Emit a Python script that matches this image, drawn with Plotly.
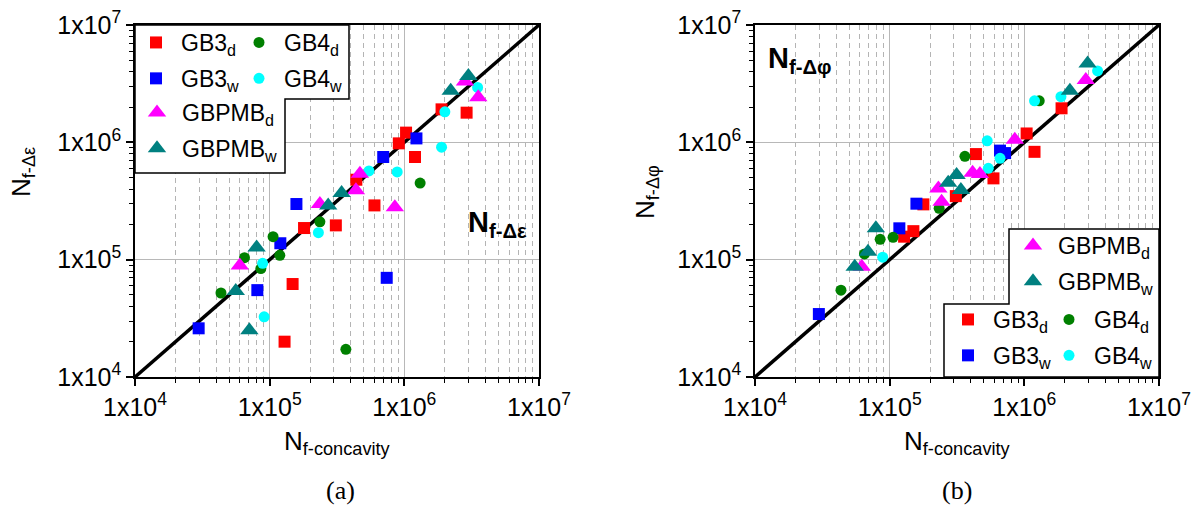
import plotly.graph_objects as go

W, H = 1203, 508

# ---- fatigue lives, panel (a): N_f-concavity vs N_f-Δε ----
a_gb3d_x = [1.89e6, 2.9e6, 1.03e6, 9.1e5, 1.2e6, 4.4e5, 6.0e5, 1.8e5, 3.1e5, 1.48e5, 1.29e5]
a_gb3d_y = [1.91e6, 1.79e6, 1.21e6, 9.8e5, 7.5e5, 4.8e5, 2.9e5, 1.86e5, 1.96e5, 6.2e4, 2.0e4]
a_gb3w_x = [1.23e6, 6.97e5, 1.58e5, 1.2e5, 8.1e4, 2.97e4, 7.4e5]
a_gb3w_y = [1.08e6, 7.5e5, 2.98e5, 1.38e5, 5.5e4, 2.6e4, 7.0e4]
a_gb4d_x = [1.31e6, 2.36e5, 1.06e5, 1.19e5, 6.5e4, 8.6e4, 4.35e4, 3.68e5]
a_gb4d_y = [4.5e5, 2.1e5, 1.57e5, 1.09e5, 1.04e5, 8.4e4, 5.2e4, 1.72e4]
a_gb4w_x = [3.5e6, 2.0e6, 1.89e6, 5.46e5, 8.85e5, 2.3e5, 8.87e4, 9.1e4]
a_gb4w_y = [2.94e6, 1.82e6, 9.1e5, 5.7e5, 5.6e5, 1.7e5, 9.3e4, 3.26e4]
a_pmbd_x = [3.54e6, 2.82e6, 4.68e5, 4.37e5, 8.5e5, 2.36e5, 6.0e4]
a_pmbd_y = [2.42e6, 3.3e6, 5.4e5, 3.9e5, 2.8e5, 2.98e5, 8.9e4]
a_pmbw_x = [2.99e6, 2.21e6, 3.42e5, 2.72e5, 8.0e4, 5.6e4, 7.07e4]
a_pmbw_y = [3.67e6, 2.75e6, 3.7e5, 2.9e5, 1.27e5, 5.4e4, 2.5e4]

# ---- fatigue lives, panel (b): N_f-concavity vs N_f-Δφ ----
b_gb3d_x = [1.89e6, 1.04e6, 1.19e6, 4.37e5, 5.9e5, 3.1e5, 1.78e5, 1.5e5, 1.28e5]
b_gb3d_y = [1.95e6, 1.19e6, 8.3e5, 7.94e5, 4.93e5, 3.48e5, 2.96e5, 1.75e5, 1.57e5]
b_gb3w_x = [6.6e5, 7.2e5, 1.58e5, 1.18e5, 2.98e4]
b_gb3w_y = [8.5e5, 8.1e5, 3.0e5, 1.85e5, 3.44e4]
b_gb4d_x = [1.29e6, 3.62e5, 2.33e5, 1.06e5, 8.5e4, 6.5e4, 4.35e4]
b_gb4d_y = [2.26e6, 7.6e5, 2.74e5, 1.55e5, 1.49e5, 1.12e5, 5.5e4]
b_gb4w_x = [3.5e6, 1.87e6, 1.19e6, 5.3e5, 5.4e5, 6.6e5, 8.87e4]
b_gb4w_y = [4.06e6, 2.45e6, 2.26e6, 1.03e6, 6.0e5, 7.3e5, 1.05e5]
b_pmbd_x = [2.86e6, 8.5e5, 4.13e5, 4.68e5, 2.3e5, 2.43e5, 6.2e4]
b_pmbd_y = [3.4e6, 1.05e6, 5.5e5, 5.37e5, 4.05e5, 3.12e5, 8.7e4]
b_pmbw_x = [2.95e6, 2.18e6, 3.14e5, 2.72e5, 3.38e5, 7.9e4, 6.9e4, 5.5e4]
b_pmbw_y = [4.7e6, 2.75e6, 5.26e5, 4.53e5, 3.92e5, 1.85e5, 1.17e5, 8.7e4]

tick_vals = [1e4, 1e5, 1e6, 1e7]
tick_text = ["1x10<sup>4</sup>", "1x10<sup>5</sup>", "1x10<sup>6</sup>", "1x10<sup>7</sup>"]
AX_MIN, AX_MAX = 1e4, 1e7

FONT = "Liberation Sans, Arial, sans-serif"


def px(x):
    return x / W


def py(y):
    return 1 - y / H


# series styles: name, colour, symbol, size
styles = {
    "gb3d": ("GB3<sub>d</sub>", "#ff0000", "square", 12),
    "gb3w": ("GB3<sub>w</sub>", "#0000ff", "square", 12),
    "gb4d": ("GB4<sub>d</sub>", "#008000", "circle", 11),
    "gb4w": ("GB4<sub>w</sub>", "#00ffff", "circle", 11),
    "pmbd": ("GBPMB<sub>d</sub>", "#ff00ff", "triangle-up", 16),
    "pmbw": ("GBPMB<sub>w</sub>", "#008080", "triangle-up", 16),
}

panel_a = {
    "gb3d": (a_gb3d_x, a_gb3d_y), "gb3w": (a_gb3w_x, a_gb3w_y),
    "gb4d": (a_gb4d_x, a_gb4d_y), "gb4w": (a_gb4w_x, a_gb4w_y),
    "pmbd": (a_pmbd_x, a_pmbd_y), "pmbw": (a_pmbw_x, a_pmbw_y),
}
panel_b = {
    "gb3d": (b_gb3d_x, b_gb3d_y), "gb3w": (b_gb3w_x, b_gb3w_y),
    "gb4d": (b_gb4d_x, b_gb4d_y), "gb4w": (b_gb4w_x, b_gb4w_y),
    "pmbd": (b_pmbd_x, b_pmbd_y), "pmbw": (b_pmbw_x, b_pmbw_y),
}

# which legend box each series goes to, per panel
legend_a = {"gb3d": "legend", "gb3w": "legend", "gb4d": "legend2", "gb4w": "legend2",
            "pmbd": "legend3", "pmbw": "legend3"}
legend_b = {"gb3d": "legend5", "gb3w": "legend5", "gb4d": "legend6", "gb4w": "legend6",
            "pmbd": "legend4", "pmbw": "legend4"}

fig = go.Figure()

# 1:1 reference line across the full axis range
for xa, ya in (("x", "y"), ("x2", "y2")):
    fig.add_trace(go.Scatter(x=[AX_MIN, AX_MAX], y=[AX_MIN, AX_MAX], mode="lines",
                             line=dict(color="black", width=3.5), showlegend=False,
                             xaxis=xa, yaxis=ya, hoverinfo="skip"))

order = ["gb3d", "gb3w", "gb4d", "gb4w", "pmbd", "pmbw"]
for data, legs, xa, ya in ((panel_a, legend_a, "x", "y"), (panel_b, legend_b, "x2", "y2")):
    for k in order:
        name, col, sym, size = styles[k]
        xs, ys = data[k]
        fig.add_trace(go.Scatter(
            x=xs, y=ys, mode="markers", name=name,
            marker=dict(color=col, symbol=sym, size=size, line=dict(width=0)),
            legend=legs[k], legendgroup=xa + k, xaxis=xa, yaxis=ya, cliponaxis=False))

minor_vals = [m * 10 ** e for e in range(4, 7) for m in range(2, 10)]


def log_axis(domain, is_x, anchor):
    ax = dict(
        type="log", range=[4, 7], domain=domain, anchor=anchor,
        tickmode="array", tickvals=tick_vals, ticktext=tick_text,
        ticks="outside", ticklen=7, tickwidth=1.5, tickcolor="black",
        showline=True, linecolor="black", linewidth=1.5, mirror=True,
        showgrid=True, gridcolor="#b8b8b8", gridwidth=1.3,
        tickfont=dict(family=FONT, size=25, color="black"),
        zeroline=False, automargin=False,
        minor=dict(tickmode="array", tickvals=minor_vals, ticks="outside", ticklen=4,
                   tickwidth=1.2, tickcolor="black",
                   showgrid=is_x, gridcolor="#b4b4b4", gridwidth=1, griddash="5px,4px"),
    )
    return ax


ydom = [py(377), py(25)]
fig.update_layout(
    width=W, height=H, margin=dict(l=0, r=0, t=0, b=0),
    paper_bgcolor="white", plot_bgcolor="white",
    font=dict(family=FONT, color="black"),
    xaxis=log_axis([px(135), px(539)], True, "y"),
    yaxis=log_axis(ydom, False, "x"),
    xaxis2=log_axis([px(755), px(1159)], True, "y2"),
    yaxis2=log_axis(ydom, False, "x2"),
)

leg_common = dict(bgcolor="rgba(0,0,0,0)", borderwidth=0, itemwidth=40, tracegroupgap=3,
                  font=dict(family=FONT, size=23, color="black"),
                  xanchor="left", yanchor="top", itemclick=False, itemdoubleclick=False)
fig.update_layout(
    legend=dict(x=px(131), y=py(21), **leg_common),
    legend2=dict(x=px(234), y=py(21), **leg_common),
    legend3=dict(x=px(132), y=py(91), **leg_common),
    legend4=dict(x=px(1008), y=py(224), **leg_common),
    legend5=dict(x=px(943), y=py(298), **leg_common),
    legend6=dict(x=px(1044), y=py(298), **leg_common),
)


def path(points):
    s = "M " + " L ".join(f"{px(x):.5f},{py(y):.5f}" for x, y in points) + " Z"
    return s


# stepped legend frames
shapes = [
    dict(type="path", xref="paper", yref="paper", layer="above",
         path=path([(135, 25), (349, 25), (349, 99), (285, 99), (285, 173), (135, 173)]),
         line=dict(color="black", width=1.5), fillcolor="white"),
    dict(type="path", xref="paper", yref="paper", layer="above",
         path=path([(1009, 229), (1159, 229), (1159, 377), (944, 377), (944, 304), (1009, 304)]),
         line=dict(color="black", width=1.5), fillcolor="white"),
]
fig.update_layout(shapes=shapes)

ann = []
# axis titles
for cx in (337, 957):
    ann.append(dict(x=px(cx), y=py(442), xref="paper", yref="paper", showarrow=False,
                    xanchor="center", yanchor="middle",
                    text="N<sub>f-concavity</sub>", font=dict(family=FONT, size=26)))
ann.append(dict(x=px(22), y=py(172), xref="paper", yref="paper", showarrow=False,
                textangle=-90, xanchor="center", yanchor="middle",
                text="N<sub>f-Δε</sub>", font=dict(family=FONT, size=26)))
ann.append(dict(x=px(646), y=py(192), xref="paper", yref="paper", showarrow=False,
                textangle=-90, xanchor="center", yanchor="middle",
                text="N<sub>f-Δφ</sub>", font=dict(family=FONT, size=26)))
# in-plot labels
ann.append(dict(x=px(466), y=py(224), xref="paper", yref="paper", showarrow=False,
                xanchor="left", yanchor="middle",
                text="<b>N<sub>f-Δε</sub></b>", font=dict(family=FONT, size=29)))
ann.append(dict(x=px(766), y=py(60), xref="paper", yref="paper", showarrow=False,
                xanchor="left", yanchor="middle",
                text="<b>N<sub>f-Δφ</sub></b>", font=dict(family=FONT, size=29)))
# panel captions
for cx, lab in ((340, "(a)"), (957, "(b)")):
    ann.append(dict(x=px(cx), y=py(490), xref="paper", yref="paper", showarrow=False,
                    xanchor="center", yanchor="middle", text=lab,
                    font=dict(family="Liberation Serif, Times New Roman, serif", size=26)))
fig.update_layout(annotations=ann)

fig.write_html("out.html")
